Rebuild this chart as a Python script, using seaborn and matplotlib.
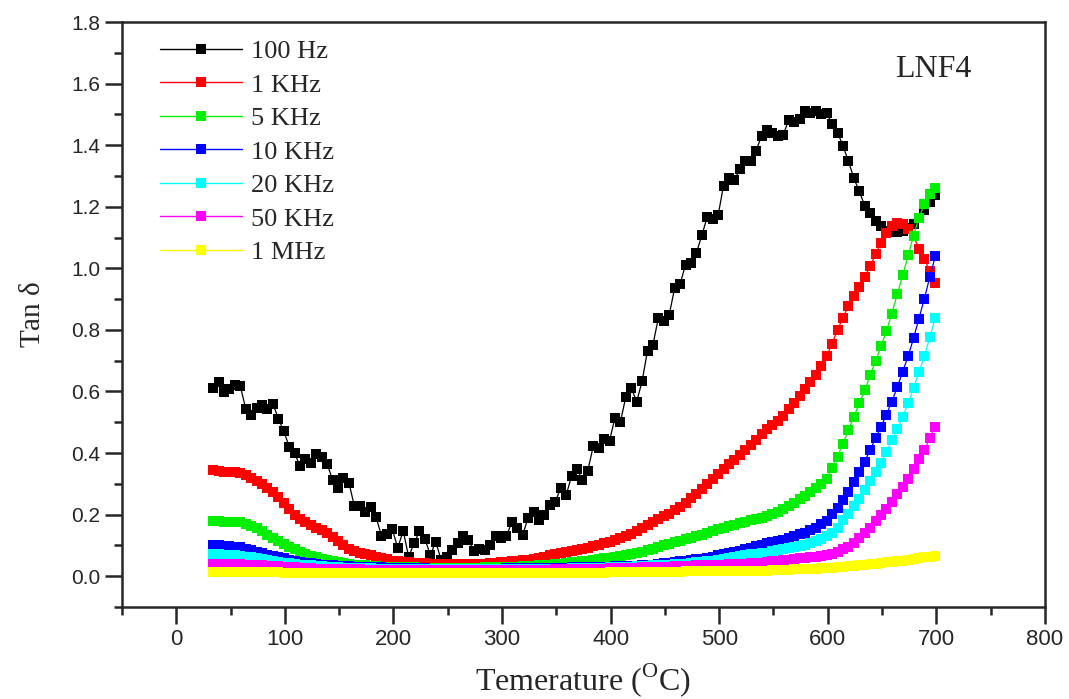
import numpy as np
import pandas as pd
import seaborn as sns
import matplotlib.pyplot as plt

# measurement temperatures (deg C), 5 degree steps
temp = np.arange(34, 700, 5)

tan_100hz = [0.612, 0.631, 0.598, 0.609, 0.622, 0.617, 0.544, 0.523, 0.547, 0.555,
             0.542, 0.560, 0.512, 0.471, 0.421, 0.399, 0.358, 0.380, 0.369, 0.396,
             0.386, 0.366, 0.311, 0.285, 0.320, 0.304, 0.228, 0.228, 0.210, 0.226,
             0.192, 0.131, 0.136, 0.152, 0.092, 0.148, 0.063, 0.107, 0.146, 0.121,
             0.069, 0.112, 0.052, 0.061, 0.084, 0.109, 0.132, 0.119, 0.083, 0.089,
             0.084, 0.102, 0.132, 0.125, 0.130, 0.175, 0.155, 0.134, 0.189, 0.209,
             0.184, 0.199, 0.231, 0.242, 0.285, 0.263, 0.324, 0.347, 0.314, 0.343,
             0.422, 0.416, 0.447, 0.439, 0.515, 0.500, 0.583, 0.612, 0.567, 0.633,
             0.733, 0.752, 0.839, 0.828, 0.850, 0.936, 0.949, 1.012, 1.017, 1.050,
             1.107, 1.167, 1.160, 1.172, 1.269, 1.293, 1.287, 1.321, 1.349, 1.347,
             1.382, 1.430, 1.448, 1.440, 1.431, 1.434, 1.481, 1.475, 1.486, 1.512,
             1.504, 1.512, 1.502, 1.505, 1.469, 1.441, 1.398, 1.348, 1.293, 1.250,
             1.204, 1.181, 1.155, 1.139, 1.120, 1.117, 1.117, 1.120, 1.131, 1.144,
             1.165, 1.188, 1.214, 1.239]

tan_1khz = [0.345, 0.342, 0.340, 0.339, 0.338, 0.336, 0.328, 0.318, 0.310, 0.300,
            0.287, 0.272, 0.256, 0.238, 0.218, 0.200, 0.186, 0.176, 0.167, 0.158,
            0.149, 0.140, 0.128, 0.113, 0.100, 0.090, 0.082, 0.077, 0.072, 0.068,
            0.064, 0.060, 0.055, 0.051, 0.048, 0.046, 0.045, 0.044, 0.043, 0.042,
            0.041, 0.040, 0.040, 0.039, 0.039, 0.039, 0.039, 0.040, 0.040, 0.041,
            0.041, 0.042, 0.043, 0.045, 0.046, 0.048, 0.050, 0.052, 0.054, 0.057,
            0.060, 0.064, 0.068, 0.072, 0.075, 0.078, 0.081, 0.084, 0.088, 0.092,
            0.097, 0.102, 0.107, 0.112, 0.118, 0.124, 0.130, 0.138, 0.147, 0.157,
            0.167, 0.177, 0.186, 0.194, 0.203, 0.214, 0.226, 0.239, 0.253, 0.268,
            0.284, 0.300, 0.316, 0.332, 0.348, 0.363, 0.378, 0.394, 0.410, 0.427,
            0.444, 0.462, 0.478, 0.491, 0.504, 0.522, 0.542, 0.563, 0.585, 0.607,
            0.630, 0.655, 0.683, 0.716, 0.755, 0.801, 0.839, 0.879, 0.909, 0.940,
            0.972, 1.006, 1.046, 1.082, 1.115, 1.137, 1.147, 1.145, 1.128, 1.104,
            1.064, 1.030, 0.990, 0.953]

tan_5khz = [0.179, 0.178, 0.177, 0.176, 0.176, 0.175, 0.170, 0.163, 0.155, 0.147,
            0.133, 0.124, 0.113, 0.104, 0.095, 0.087, 0.079, 0.073, 0.067, 0.061,
            0.056, 0.052, 0.048, 0.045, 0.042, 0.040, 0.038, 0.036, 0.035, 0.033,
            0.032, 0.031, 0.031, 0.030, 0.030, 0.029, 0.029, 0.029, 0.028, 0.028,
            0.028, 0.028, 0.028, 0.028, 0.028, 0.028, 0.028, 0.028, 0.028, 0.028,
            0.029, 0.029, 0.029, 0.030, 0.030, 0.031, 0.031, 0.032, 0.033, 0.034,
            0.035, 0.036, 0.037, 0.039, 0.041, 0.043, 0.045, 0.047, 0.049, 0.051,
            0.053, 0.055, 0.058, 0.060, 0.063, 0.066, 0.069, 0.072, 0.075, 0.079,
            0.085, 0.090, 0.095, 0.100, 0.105, 0.110, 0.115, 0.120, 0.125, 0.130,
            0.135, 0.141, 0.146, 0.152, 0.157, 0.162, 0.167, 0.172, 0.177, 0.181,
            0.186, 0.190, 0.196, 0.203, 0.210, 0.218, 0.228, 0.238, 0.250, 0.260,
            0.272, 0.285, 0.300, 0.317, 0.352, 0.388, 0.431, 0.475, 0.518, 0.561,
            0.604, 0.652, 0.698, 0.747, 0.795, 0.853, 0.916, 0.977, 1.042, 1.106,
            1.165, 1.208, 1.242, 1.261]

tan_10khz = [0.101, 0.100, 0.099, 0.097, 0.096, 0.094, 0.090, 0.085, 0.080, 0.076,
             0.070, 0.066, 0.062, 0.058, 0.054, 0.050, 0.047, 0.044, 0.042, 0.040,
             0.038, 0.036, 0.035, 0.034, 0.033, 0.032, 0.031, 0.031, 0.030, 0.030,
             0.029, 0.029, 0.028, 0.028, 0.028, 0.027, 0.027, 0.027, 0.027, 0.026,
             0.025, 0.025, 0.025, 0.025, 0.025, 0.025, 0.025, 0.025, 0.025, 0.025,
             0.025, 0.025, 0.025, 0.025, 0.026, 0.026, 0.026, 0.026, 0.026, 0.027,
             0.027, 0.027, 0.027, 0.028, 0.028, 0.028, 0.029, 0.029, 0.029, 0.030,
             0.030, 0.030, 0.031, 0.031, 0.032, 0.032, 0.033, 0.034, 0.034, 0.035,
             0.036, 0.038, 0.040, 0.042, 0.044, 0.046, 0.048, 0.050, 0.052, 0.055,
             0.057, 0.060, 0.064, 0.068, 0.071, 0.075, 0.079, 0.083, 0.087, 0.092,
             0.097, 0.102, 0.107, 0.111, 0.115, 0.119, 0.124, 0.130, 0.136, 0.142,
             0.149, 0.158, 0.168, 0.180, 0.201, 0.223, 0.247, 0.275, 0.307, 0.340,
             0.372, 0.410, 0.448, 0.484, 0.525, 0.567, 0.614, 0.664, 0.715, 0.773,
             0.837, 0.902, 0.972, 1.039]

tan_20khz = [0.072, 0.071, 0.070, 0.069, 0.068, 0.067, 0.064, 0.061, 0.058, 0.055,
             0.052, 0.049, 0.046, 0.044, 0.042, 0.040, 0.038, 0.036, 0.035, 0.034,
             0.032, 0.031, 0.030, 0.029, 0.028, 0.028, 0.027, 0.027, 0.026, 0.026,
             0.025, 0.025, 0.025, 0.024, 0.024, 0.024, 0.024, 0.023, 0.023, 0.023,
             0.023, 0.023, 0.023, 0.023, 0.023, 0.023, 0.023, 0.023, 0.023, 0.023,
             0.023, 0.023, 0.023, 0.023, 0.023, 0.023, 0.023, 0.024, 0.024, 0.024,
             0.024, 0.024, 0.025, 0.025, 0.025, 0.025, 0.026, 0.026, 0.026, 0.027,
             0.027, 0.028, 0.028, 0.029, 0.029, 0.030, 0.031, 0.031, 0.032, 0.033,
             0.034, 0.035, 0.036, 0.037, 0.038, 0.039, 0.040, 0.041, 0.043, 0.045,
             0.047, 0.049, 0.051, 0.054, 0.056, 0.059, 0.062, 0.065, 0.068, 0.071,
             0.073, 0.075, 0.077, 0.081, 0.085, 0.088, 0.091, 0.094, 0.098, 0.102,
             0.107, 0.113, 0.120, 0.130, 0.142, 0.158, 0.183, 0.203, 0.228, 0.252,
             0.280, 0.309, 0.338, 0.369, 0.403, 0.442, 0.477, 0.518, 0.561, 0.611,
             0.663, 0.715, 0.777, 0.839]

tan_50khz = [0.041, 0.041, 0.040, 0.040, 0.040, 0.039, 0.038, 0.037, 0.036, 0.035,
             0.034, 0.033, 0.032, 0.031, 0.030, 0.029, 0.028, 0.027, 0.026, 0.025,
             0.025, 0.024, 0.024, 0.023, 0.023, 0.022, 0.022, 0.022, 0.021, 0.021,
             0.021, 0.020, 0.020, 0.020, 0.020, 0.019, 0.019, 0.019, 0.019, 0.019,
             0.019, 0.019, 0.019, 0.019, 0.019, 0.019, 0.019, 0.019, 0.019, 0.019,
             0.019, 0.019, 0.019, 0.019, 0.019, 0.020, 0.020, 0.020, 0.020, 0.020,
             0.021, 0.021, 0.021, 0.022, 0.022, 0.022, 0.023, 0.023, 0.023, 0.024,
             0.024, 0.025, 0.025, 0.026, 0.026, 0.027, 0.027, 0.028, 0.028, 0.029,
             0.029, 0.030, 0.030, 0.031, 0.031, 0.032, 0.033, 0.033, 0.034, 0.035,
             0.035, 0.036, 0.037, 0.037, 0.038, 0.039, 0.040, 0.040, 0.041, 0.042,
             0.043, 0.044, 0.046, 0.048, 0.050, 0.052, 0.054, 0.056, 0.058, 0.060,
             0.062, 0.064, 0.066, 0.068, 0.071, 0.079, 0.088, 0.096, 0.109, 0.125,
             0.142, 0.158, 0.179, 0.198, 0.219, 0.241, 0.266, 0.291, 0.317, 0.347,
             0.380, 0.410, 0.449, 0.486]

tan_1mhz = [0.013, 0.013, 0.013, 0.013, 0.013, 0.013, 0.013, 0.013, 0.013, 0.013,
            0.013, 0.013, 0.013, 0.012, 0.012, 0.012, 0.012, 0.012, 0.012, 0.012,
            0.012, 0.012, 0.012, 0.012, 0.012, 0.012, 0.012, 0.012, 0.012, 0.012,
            0.011, 0.011, 0.011, 0.011, 0.011, 0.011, 0.011, 0.011, 0.011, 0.011,
            0.011, 0.011, 0.011, 0.011, 0.011, 0.011, 0.011, 0.011, 0.011, 0.011,
            0.011, 0.011, 0.011, 0.011, 0.011, 0.011, 0.011, 0.011, 0.011, 0.011,
            0.012, 0.012, 0.012, 0.012, 0.012, 0.012, 0.012, 0.012, 0.012, 0.012,
            0.012, 0.012, 0.012, 0.013, 0.013, 0.013, 0.013, 0.013, 0.014, 0.014,
            0.014, 0.014, 0.014, 0.015, 0.015, 0.015, 0.015, 0.016, 0.016, 0.016,
            0.016, 0.016, 0.017, 0.017, 0.017, 0.017, 0.017, 0.018, 0.018, 0.018,
            0.018, 0.018, 0.018, 0.019, 0.020, 0.020, 0.021, 0.022, 0.022, 0.023,
            0.024, 0.025, 0.026, 0.027, 0.028, 0.029, 0.030, 0.032, 0.033, 0.035,
            0.037, 0.039, 0.041, 0.043, 0.045, 0.047, 0.049, 0.051, 0.053, 0.055,
            0.058, 0.061, 0.064, 0.066]

labels = ['100 Hz', '1 KHz', '5 KHz', '10 KHz', '20 KHz', '50 KHz', '1 MHz']
series = [tan_100hz, tan_1khz, tan_5khz, tan_10khz, tan_20khz, tan_50khz, tan_1mhz]
colors = ['#000000', '#ff0000', '#00ee00', '#0000ff', '#00ffff', '#ff00ff', '#ffff00']

df = pd.concat([pd.DataFrame({'temp': temp, 'tan': s, 'freq': lab})
                for s, lab in zip(series, labels)], ignore_index=True)

sns.set_style('ticks')
plt.rcParams['mathtext.fontset'] = 'custom'
plt.rcParams['mathtext.rm'] = 'Liberation Serif'

fig = plt.figure(figsize=(10.69, 6.99), dpi=100)
ax = fig.add_axes([0.1141, 0.1316, 0.8634, 0.8369])

for lab, col in zip(labels, colors):
    sub = df[df['freq'] == lab]
    sns.lineplot(data=sub, x='temp', y='tan', color=col, marker='s',
                 markersize=6.5, markeredgewidth=0, linewidth=0.9,
                 label=lab, ax=ax)

ax.set_xlim(-50, 800)
ax.set_ylim(-0.1, 1.8)
ax.set_xticks(np.arange(0, 801, 100))
ax.set_xticks(np.arange(-50, 801, 50), minor=True)
ax.set_yticks(np.arange(0, 1.81, 0.2))
ax.set_yticks(np.arange(-0.1, 1.81, 0.1), minor=True)
ax.set_yticklabels(['%.1f' % v for v in np.arange(0, 1.81, 0.2)])

for sp in ax.spines.values():
    sp.set_linewidth(1.8)
    sp.set_visible(True)
ax.tick_params(which='major', direction='out', length=12, width=1.8,
               labelsize=15, top=False, right=False)
ax.tick_params(which='minor', direction='out', length=6, width=1.8,
               top=False, right=False)
for t in ax.get_xticklabels():
    t.set_family('Liberation Sans')
    t.set_fontsize(16)
for t in ax.get_yticklabels():
    t.set_family('Liberation Sans')

ax.set_xlabel(r'Temerature ($^{\mathrm{O}}$C)', family='Liberation Serif',
              fontsize=23, labelpad=8)
ax.set_ylabel(r'Tan $\mathrm{\delta}$', family='Liberation Serif', fontsize=21,
              labelpad=18)

ax.text(0.838, 0.918, 'LNF4', transform=ax.transAxes, family='Liberation Serif',
        fontsize=23, va='center', ha='left')

leg = ax.legend(loc='upper left', bbox_to_anchor=(0.03, 0.988), frameon=False,
                prop={'family': 'Liberation Serif', 'size': 19},
                handlelength=3.1, handletextpad=0.35, labelspacing=0.38,
                borderaxespad=0.0)
for h in leg.legend_handles:
    h.set_linewidth(1.0)

fig.savefig('out.png', dpi=100)
